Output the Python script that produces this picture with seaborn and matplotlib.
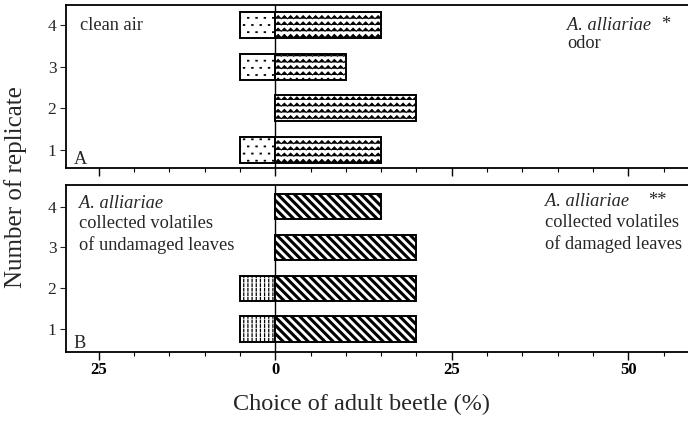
import numpy as np
import pandas as pd
import matplotlib
matplotlib.use("Agg")
import matplotlib.pyplot as plt
import matplotlib.hatch as mhatch
from matplotlib.path import Path
from matplotlib.ticker import MultipleLocator, FixedLocator, FuncFormatter
import seaborn as sns

# ---------------- data ----------------
replicates = [1, 2, 3, 4]
a_clean_air = [5, 0, 5, 5]          # % choosing clean air (left)
a_odor = [15, 20, 10, 15]           # % choosing A. alliariae odor (right)
b_undamaged = [5, 5, 0, 0]          # % choosing volatiles of undamaged leaves (left)
b_damaged = [20, 20, 20, 15]        # % choosing volatiles of damaged leaves (right)
x_major_ticks = [-25, 0, 25, 50]
y_ticks = [1, 2, 3, 4]


# ---------------- custom hatch textures ----------------
class ZigzagHatch(mhatch.HatchPatternBase):
    """Wavy zigzag rows, triggered by 'O'."""
    def __init__(self, hatch, density):
        self.rows = 16 if "O" in hatch else 0
        self.teeth = 16
        self.num_vertices = self.rows * (2 * self.teeth + 1)
        self.filled = False

    def set_vertices_and_codes(self, vertices, codes):
        idx = 0
        amp = 0.5 / max(self.rows, 1)
        for i in range(self.rows):
            y0 = i / self.rows
            for j in range(2 * self.teeth + 1):
                vertices[idx] = (j / (2 * self.teeth), y0 + (amp if j % 2 else 0.0))
                codes[idx] = Path.MOVETO if j == 0 else Path.LINETO
                idx += 1


class VDashHatch(mhatch.HatchPatternBase):
    """Short vertical dashes, triggered by 'o'."""
    def __init__(self, hatch, density):
        on = "o" in hatch
        self.cols = 24 if on else 0
        self.rows = 22 if on else 0
        self.num_vertices = self.cols * self.rows * 2
        self.filled = False

    def set_vertices_and_codes(self, vertices, codes):
        idx = 0
        for c in range(self.cols):
            x = (c + 0.5) / self.cols
            for r in range(self.rows):
                y = r / self.rows
                vertices[idx] = (x, y)
                vertices[idx + 1] = (x, y + 0.55 / self.rows)
                codes[idx] = Path.MOVETO
                codes[idx + 1] = Path.LINETO
                idx += 2


class TinyDotHatch(mhatch.HatchPatternBase):
    """Small staggered dots, triggered by '*'."""
    def __init__(self, hatch, density):
        on = "*" in hatch
        self.cols = 12 if on else 0
        self.rows = 14 if on else 0
        self.num_vertices = self.cols * self.rows * 2
        self.filled = False

    def set_vertices_and_codes(self, vertices, codes):
        idx = 0
        for r in range(self.rows):
            y = (r + 0.5) / self.rows
            off = 0.5 if r % 2 else 0.0
            for c in range(self.cols):
                x = ((c + off + 0.25) / self.cols) % 1.0
                vertices[idx] = (x, y)
                vertices[idx + 1] = (x + 0.006, y)
                codes[idx] = Path.MOVETO
                codes[idx + 1] = Path.LINETO
                idx += 2


_skip = {getattr(mhatch, "LargeCircles", None), getattr(mhatch, "SmallCircles", None),
         getattr(mhatch, "Stars", None)}
mhatch._hatch_types = [t for t in mhatch._hatch_types if t not in _skip] + \
    [ZigzagHatch, VDashHatch, TinyDotHatch]

BACKSLASH4 = chr(92) * 4

# ---------------- style ----------------
sns.set_theme(style="ticks")
plt.rcParams["font.family"] = ["Liberation Serif", "DejaVu Serif"]
plt.rcParams["hatch.color"] = "black"

fig = plt.figure(figsize=(6.88, 4.24), dpi=100)
axA = fig.add_axes([0.096, 0.604, 0.914, 0.384])
axB = fig.add_axes([0.096, 0.170, 0.914, 0.394])

XMIN, XMAX = -29.6, 59.4


def draw_side(ax, values, sign, hatch, hlw):
    df = pd.DataFrame({"rep": replicates, "value": [sign * v for v in values]})
    with plt.rc_context({"hatch.linewidth": hlw}):
        sns.barplot(data=df, x="value", y="rep", orient="y", native_scale=True,
                    width=0.62, color="white", edgecolor="black", linewidth=1.4,
                    saturation=1, ax=ax, errorbar=None)
    for p in ax.containers[-1]:
        p.set_hatch(hatch)
        p.set_facecolor("white")
        if hasattr(p, "set_hatch_linewidth"):
            p.set_hatch_linewidth(hlw)


draw_side(axA, a_clean_air, -1, "*", 1.3)
draw_side(axA, a_odor, 1, "O", 0.7)
draw_side(axB, b_undamaged, -1, "o", 0.9)
draw_side(axB, b_damaged, 1, BACKSLASH4, 2.2)

for ax, ylim in ((axA, (0.57, 4.48)), (axB, (0.44, 4.53))):
    ax.set_xlim(XMIN, XMAX)
    ax.set_ylim(*ylim)
    ax.axvline(0, color="black", lw=1.0, zorder=0.5)
    ax.xaxis.set_major_locator(FixedLocator(x_major_ticks))
    ax.xaxis.set_minor_locator(MultipleLocator(5))
    ax.yaxis.set_major_locator(FixedLocator(y_ticks))
    ax.set_yticklabels([str(v) for v in y_ticks], fontsize=12.5)
    ax.tick_params(axis="x", which="major", direction="out", length=6, width=1, colors="black")
    ax.tick_params(axis="x", which="minor", direction="out", length=3, width=0.8, colors="black")
    ax.tick_params(axis="y", which="major", direction="out", length=4, width=0.8, pad=3)
    for s in ("left", "top", "bottom"):
        ax.spines[s].set_visible(True)
        ax.spines[s].set_color("black")
        ax.spines[s].set_linewidth(1.3)
    ax.spines["right"].set_visible(False)
    ax.set_xlabel("")
    ax.set_ylabel("")

axA.tick_params(axis="x", which="both", labelbottom=False)
axB.xaxis.set_major_formatter(FuncFormatter(lambda v, p: f"{abs(int(v))}"))
for lab in axB.get_xticklabels():
    lab.set_fontweight("bold")
    lab.set_fontsize(12)
axB.tick_params(axis="x", which="major", pad=1)

# panel texts
fs = 13.2
axA.text(-27.6, 4.0, "clean air", fontsize=fs, va="center", ha="left")
axA.text(-28.5, 0.57, "A", fontsize=fs, va="bottom", ha="left")
axA.text(41.3, 4.0, "A. alliariae", fontsize=fs, style="italic", va="center", ha="left")
axA.text(54.6, 4.02, "*", fontsize=fs, va="center", ha="left")
axA.text(41.3, 3.55, "odor", fontsize=fs, va="center", ha="left")

axB.text(-27.7, 4.08, "A. alliariae", fontsize=fs, style="italic", va="center", ha="left")
axB.text(-27.7, 3.58, "collected volatiles", fontsize=fs, va="center", ha="left")
axB.text(-27.7, 3.05, "of undamaged leaves", fontsize=fs, va="center", ha="left")
axB.text(-28.5, 0.44, "B", fontsize=fs, va="bottom", ha="left")
axB.text(38.2, 4.12, "A. alliariae", fontsize=fs, style="italic", va="center", ha="left")
axB.text(52.8, 4.14, "**", fontsize=fs, va="center", ha="left")
axB.text(38.2, 3.6, "collected volatiles", fontsize=fs, va="center", ha="left")
axB.text(38.2, 3.08, "of damaged leaves", fontsize=fs, va="center", ha="left")

fig.text(0.022, 0.558, "Number of replicate", rotation=90, fontsize=18, va="center", ha="center")
fig.text(0.525, 0.045, "Choice of adult beetle (%)", fontsize=17.5, va="center", ha="center")

fig.savefig("out.png", dpi=100)
